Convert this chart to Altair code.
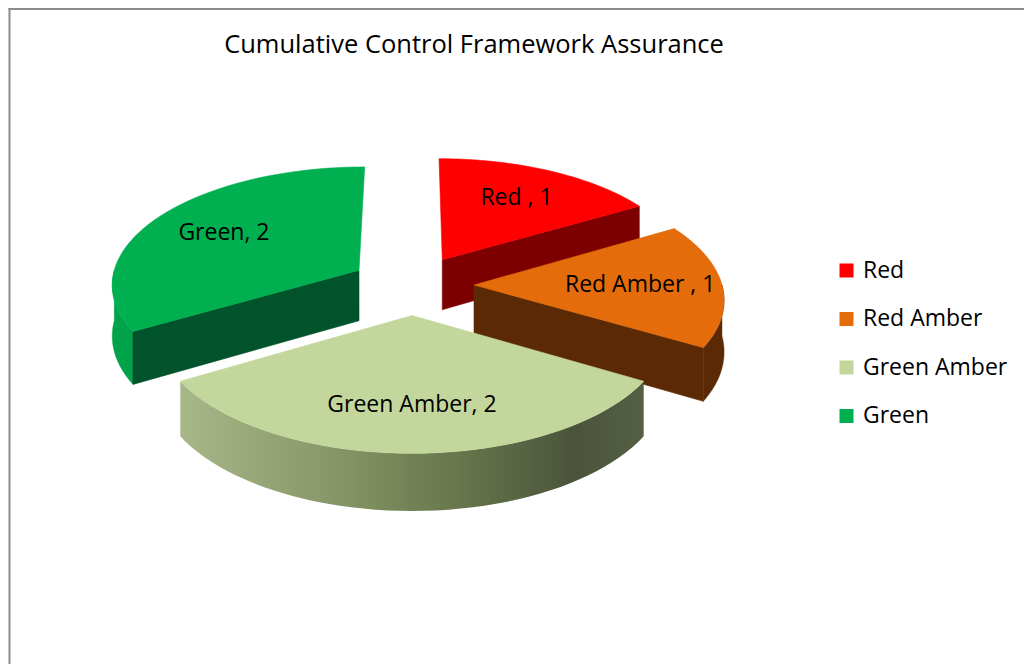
import altair as alt
import pandas as pd

# ---- data ----
title_text = "Cumulative Control Framework Assurance"
categories = ["Red ", "Red Amber ", "Green Amber", "Green"]
values = [1, 1, 2, 2]
legend_names = ["Red", "Red Amber", "Green Amber", "Green"]

# ---- style ----
top_colors = ["#ff0000", "#e46c0a", "#c3d69b", "#00b050"]
face_colors = ["#7c0000", "#5b2a04", "#6e7d52", "#00532a"]
rim_colors = ["#b00000", "#5b2a04", "#7d8d60", "#00a24a"]
draw_order = ["Red ", "Green", "Red Amber ", "Green Amber"]
FONT = "Open Sans"

df = pd.DataFrame({"cat": categories, "value": values, "name": legend_names,
                   "idx": list(range(len(categories)))})

W, H = 1016, 656
CX, CY = 404, 277      # pie centre (plot coords)
RX, RY = 248, 119      # ellipse radii
K = 0.105              # perspective factor
T = 51                 # thickness
D = 0.25               # explode distance (fraction of radius)
N = 48                 # arc resolution
LR = 0.67              # label radius

xs = alt.Scale(domain=[0, W], nice=False, zero=False)
ys = alt.Scale(domain=[0, H], nice=False, zero=False, reverse=True)

PX = f"{CX} + {RX}*datum.u*(1 + {K}*datum.v)"
PY = f"{CY} + {RY}*datum.v*(1 + {K}*datum.v) + datum.b*{T}*(1 + {K}*datum.v)"


def base():
    return (alt.Chart(df)
            .transform_joinaggregate(total="sum(value)")
            .transform_window(cum="sum(value)", sort=[alt.SortField("idx")], frame=[None, 0])
            .transform_calculate(a1="2*PI*datum.cum/datum.total")
            .transform_calculate(a0="2*PI*(datum.cum-datum.value)/datum.total")
            .transform_calculate(mid="(datum.a0+datum.a1)/2")
            .transform_calculate(ox=f"{D}*sin(datum.mid)")
            .transform_calculate(oy=f"-{D}*cos(datum.mid)"))


def finish(ch):
    return (ch.transform_calculate(px=PX)
              .transform_calculate(py=PY))


def enc(ch, **kw):
    return ch.encode(x=alt.X("px:Q", scale=xs, axis=None),
                     y=alt.Y("py:Q", scale=ys, axis=None),
                     order=alt.Order("i:Q"), **kw)


def top_layer(cat):
    k = categories.index(cat)
    ch = (base().transform_filter(alt.datum.cat == cat)
          .transform_calculate(seq=f"sequence(0, {N + 2})")
          .transform_flatten(["seq"], as_=["i"])
          .transform_calculate(ang=f"datum.a0 + (datum.a1-datum.a0)*min(datum.i,{N})/{N}")
          .transform_calculate(u=f"datum.i <= {N} ? datum.ox + sin(datum.ang) : datum.ox")
          .transform_calculate(v=f"datum.i <= {N} ? datum.oy - cos(datum.ang) : datum.oy")
          .transform_calculate(b="0"))
    ch = finish(ch).mark_line(interpolate="linear-closed", filled=True,
                              stroke=top_colors[k], strokeWidth=0.6, strokeJoin="round")
    return enc(ch, fill=alt.Fill("name:N",
                                 scale=alt.Scale(domain=legend_names, range=top_colors),
                                 legend=alt.Legend(title=None, orient="none",
                                                   legendX=827, legendY=251,
                                                   symbolType="square", symbolSize=196,
                                                   symbolStrokeWidth=0,
                                                   labelFontSize=23, labelFont=FONT,
                                                   labelColor="#000000",
                                                   rowPadding=24.5, labelOffset=5)))


def rim_layer(cat, fill):
    k = categories.index(cat)
    ch = (base().transform_filter(alt.datum.cat == cat)
          .transform_calculate(s0="max(datum.a0, PI/2)")
          .transform_calculate(s1="min(datum.a1, 3*PI/2)")
          .transform_filter("datum.s1 > datum.s0")
          .transform_calculate(seq=f"sequence(0, {2 * N + 2})")
          .transform_flatten(["seq"], as_=["i"])
          .transform_calculate(j=f"datum.i <= {N} ? datum.i : {2 * N + 1} - datum.i")
          .transform_calculate(ang=f"datum.s0 + (datum.s1-datum.s0)*datum.j/{N}")
          .transform_calculate(u="datum.ox + sin(datum.ang)")
          .transform_calculate(v="datum.oy - cos(datum.ang)")
          .transform_calculate(b=f"datum.i <= {N} ? 0 : 1"))
    stroke = rim_colors[k]
    ch = finish(ch).mark_line(interpolate="linear-closed", fill=fill,
                              stroke=stroke, strokeWidth=0.4 if isinstance(fill, str) else 0,
                              strokeJoin="round")
    return enc(ch)


def face_layer(cat, edge):
    k = categories.index(cat)
    vis = "sin(datum.a1) > 0.01" if edge == "a1" else "-sin(datum.a0) > 0.01"
    ch = (base().transform_filter(alt.datum.cat == cat)
          .transform_filter(vis)
          .transform_calculate(seq="sequence(0, 4)")
          .transform_flatten(["seq"], as_=["i"])
          .transform_calculate(r="(datum.i == 1 || datum.i == 2) ? 1 : 0")
          .transform_calculate(b="datum.i >= 2 ? 1 : 0")
          .transform_calculate(u=f"datum.ox + datum.r*sin(datum.{edge})")
          .transform_calculate(v=f"datum.oy - datum.r*cos(datum.{edge})"))
    ch = finish(ch).mark_line(interpolate="linear-closed", fill=face_colors[k],
                              stroke=face_colors[k], strokeWidth=0.6, strokeJoin="round")
    return enc(ch)


ga_gradient = alt.Gradient(
    gradient="linear", x1=0, x2=1, y1=0, y2=0,
    stops=[alt.GradientStop(color="#a7b789", offset=0),
           alt.GradientStop(color="#8a9a6a", offset=0.3),
           alt.GradientStop(color="#67764c", offset=0.6),
           alt.GradientStop(color="#4b543a", offset=0.85),
           alt.GradientStop(color="#545f44", offset=1)])

layers = []
for cat in draw_order:
    k = categories.index(cat)
    fill = ga_gradient if cat == "Green Amber" else rim_colors[k]
    layers.append(rim_layer(cat, fill))
    layers.append(face_layer(cat, "a0"))
    layers.append(face_layer(cat, "a1"))
    layers.append(top_layer(cat))

labels = (base()
          .transform_calculate(u=f"datum.ox + {LR}*sin(datum.mid)")
          .transform_calculate(v=f"datum.oy - {LR}*cos(datum.mid)")
          .transform_calculate(b="0")
          .transform_calculate(label="datum.cat + ', ' + datum.value"))
labels = finish(labels).mark_text(font=FONT, fontSize=23, color="#000000").encode(
    x=alt.X("px:Q", scale=xs, axis=None),
    y=alt.Y("py:Q", scale=ys, axis=None),
    text="label:N")
layers.append(labels)

title = alt.Chart(pd.DataFrame({"t": [title_text]})).mark_text(
    font=FONT, fontSize=25.5, color="#000000").encode(
    text="t:N", x=alt.value(466), y=alt.value(37))
layers.append(title)

border_v = alt.Chart(pd.DataFrame({"k": [0]})).mark_rule(color="#8c8c8c", strokeWidth=2).encode(
    x=alt.value(1.5), y=alt.value(0), y2=alt.value(H))
border_h = alt.Chart(pd.DataFrame({"k": [0]})).mark_rule(color="#8c8c8c", strokeWidth=2).encode(
    x=alt.value(0.5), x2=alt.value(W), y=alt.value(1))
layers += [border_v, border_h]

chart = (alt.layer(*layers)
         .properties(width=W, height=H, padding=0, autosize=alt.AutoSizeParams(type="none"))
         .configure_view(stroke=None))

chart.save("out.html", embed_options={"renderer": "svg", "actions": False})
